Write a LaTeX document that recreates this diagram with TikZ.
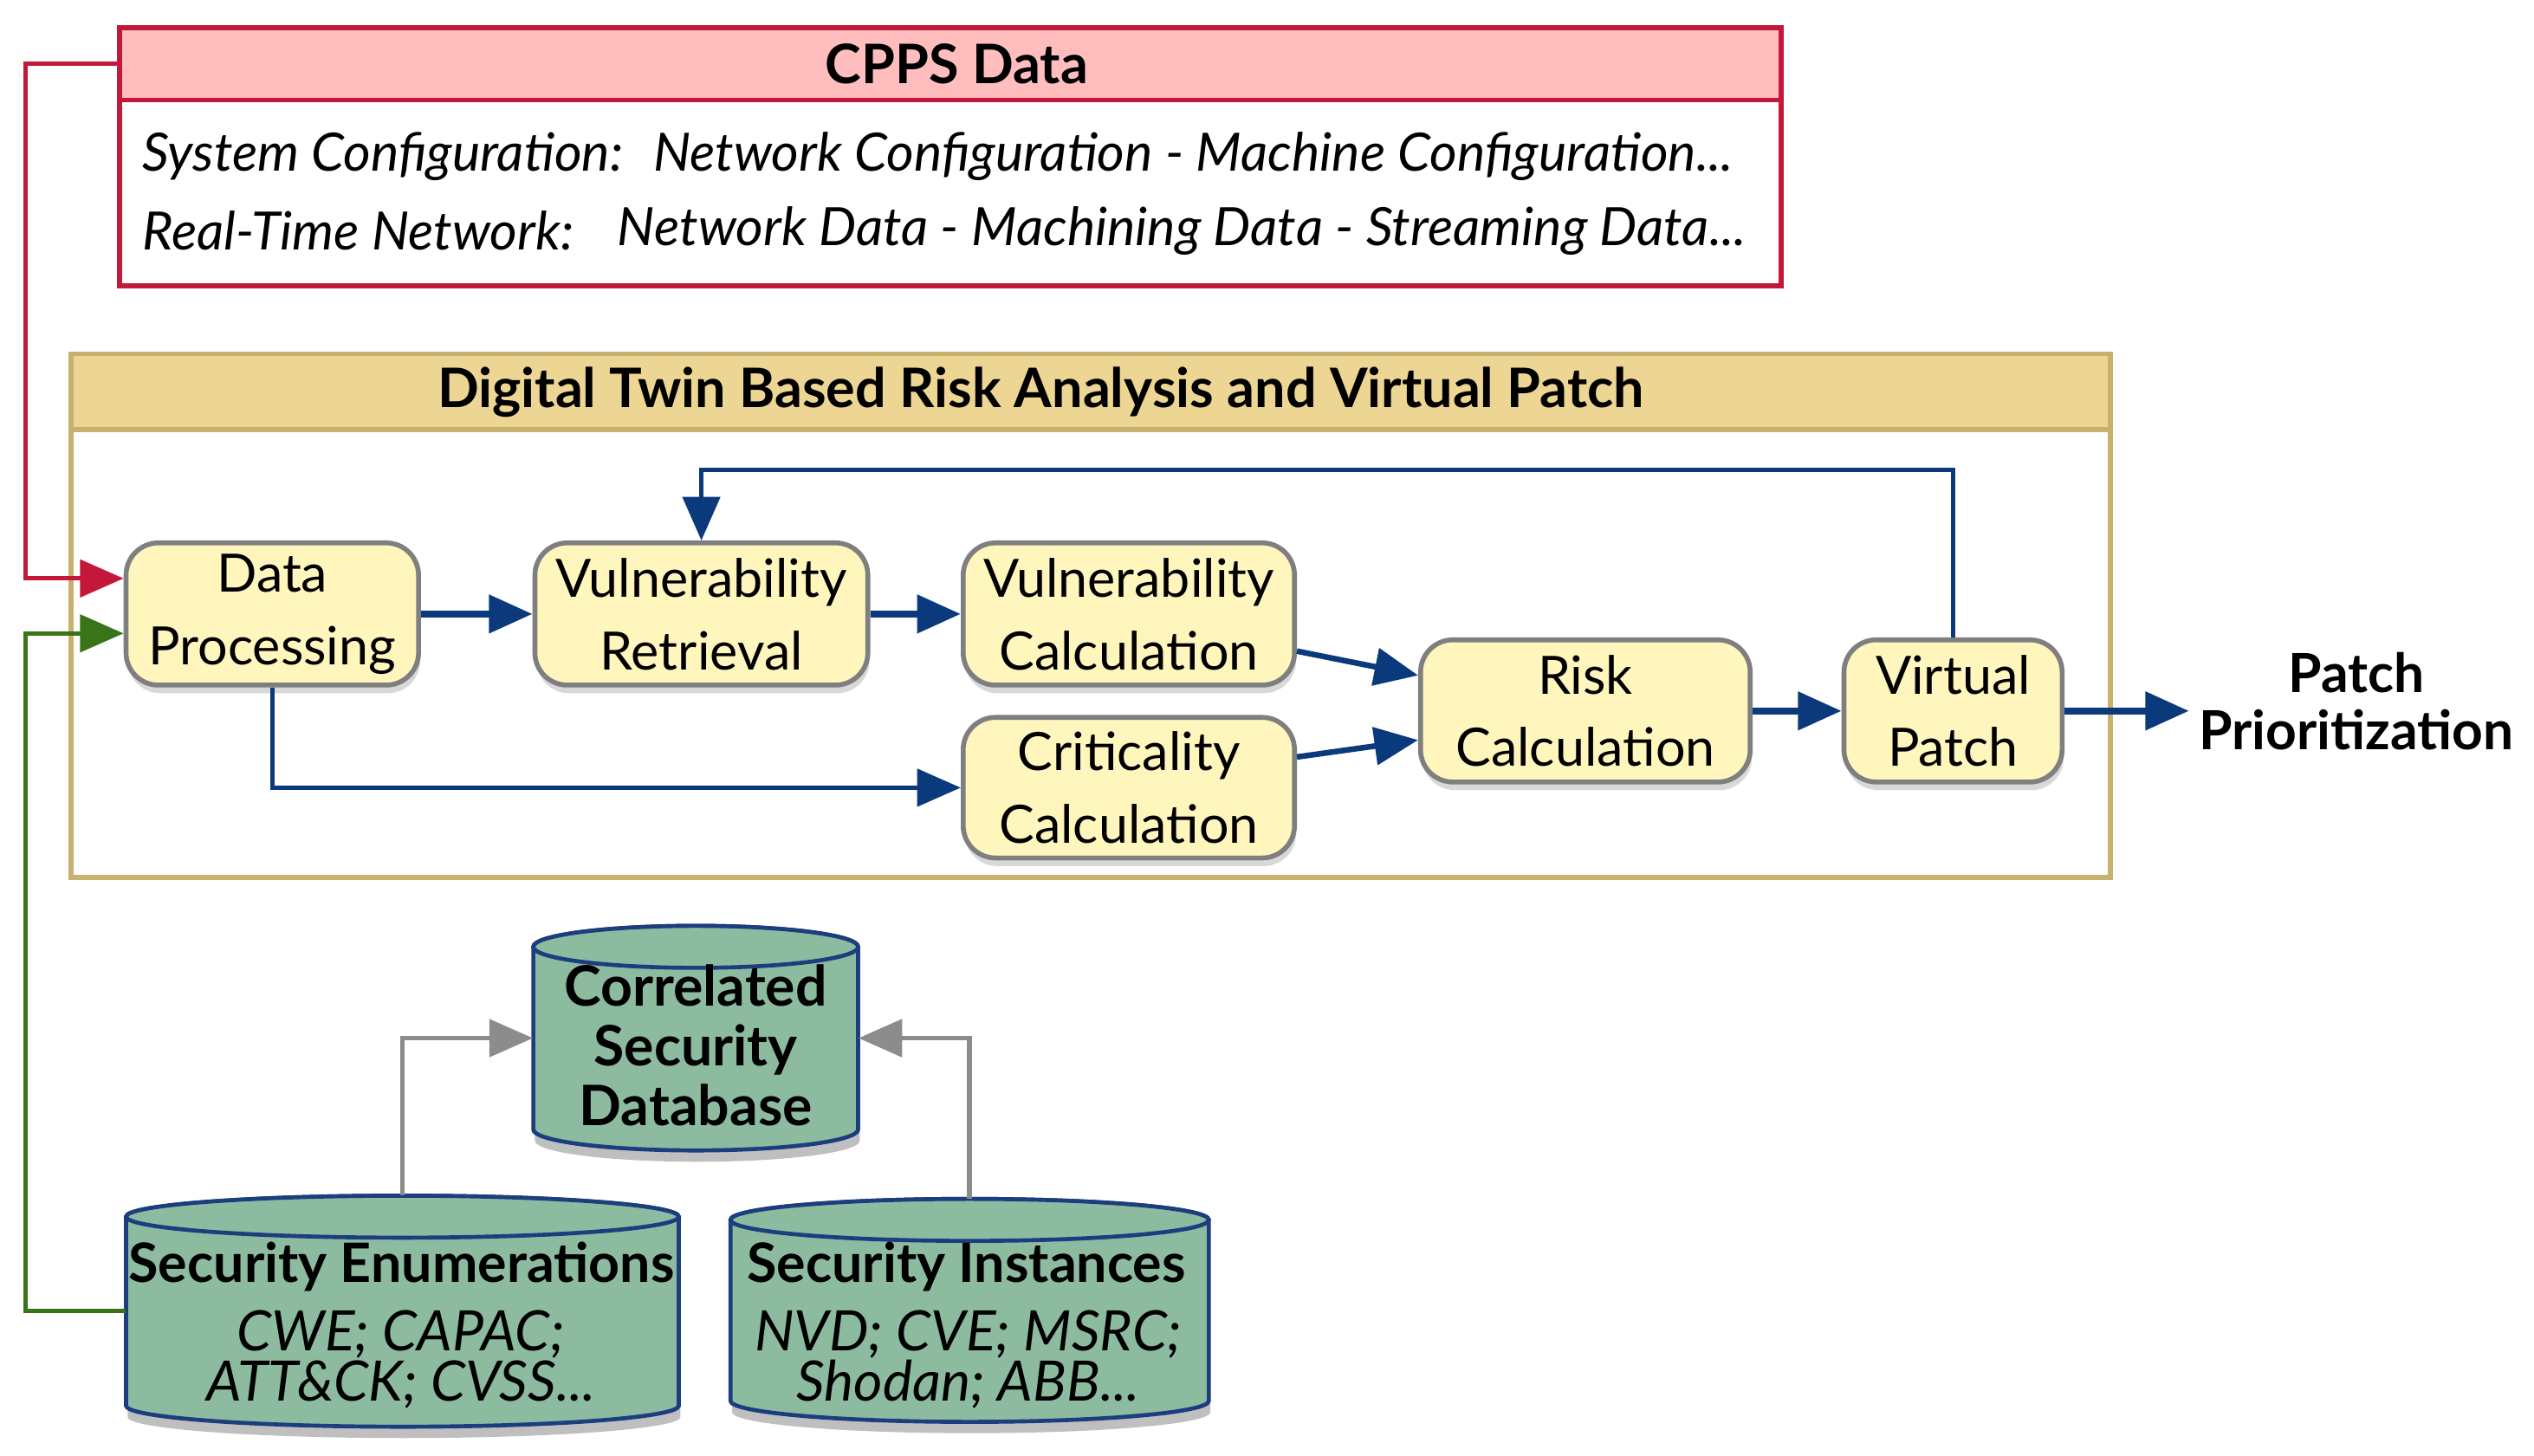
\documentclass[tikz,border=0pt]{standalone}
\usepackage{fontspec}
\setmainfont{Lato}
\usetikzlibrary{arrows.meta,shapes.geometric,shadows,calc}
\definecolor{cppsred}{HTML}{C4183A}
\definecolor{cppsfill}{HTML}{FFBDBD}
\definecolor{dtline}{HTML}{C8B16E}
\definecolor{dtfill}{HTML}{EDD593}
\definecolor{procfill}{HTML}{FFF6BE}
\definecolor{procline}{HTML}{7F7F7F}
\definecolor{navy}{HTML}{0A3A7C}
\definecolor{dbfill}{HTML}{8DBBA0}
\definecolor{dbline}{HTML}{1C3E7E}
\definecolor{grayarr}{HTML}{8C8C8C}
\definecolor{greenl}{HTML}{3A7418}
\tikzset{
  proc/.style={rectangle, rounded corners=20pt, draw=procline, line width=3pt, fill=procfill,
    align=center, font=\fontsize{32.7}{45}\selectfont, inner sep=0pt,
    drop shadow={shadow xshift=1pt, shadow yshift=-5pt, opacity=.3}},
  dbsty/.style={draw=dbline, line width=2.5pt, fill=dbfill},
  dbtitle/.style={font=\fontsize{33.6}{37}\selectfont\bfseries, align=center, inner sep=0pt},
  dbsub/.style={font=\fontsize{34.5}{31}\selectfont\itshape, align=center, inner sep=0pt},
  arrowtip/.style={-{Triangle[length=27pt,width=23pt]}},
  flow/.style={draw=navy, line width=4.5pt, arrowtip},
  diagflow/.style={draw=navy, line width=3.5pt, arrowtip},
  thinflow/.style={draw=navy, line width=2.7pt, arrowtip},
  grayflow/.style={draw=grayarr, line width=3pt, arrowtip},
  redflow/.style={draw=cppsred, line width=2.8pt, arrowtip},
  greenflow/.style={draw=greenl, line width=2.8pt, arrowtip},
  itxt/.style={font=\fontsize{32.7}{36}\selectfont\itshape, anchor=west, inner sep=0pt},
  headtxt/.style={font=\fontsize{33.7}{38}\selectfont\bfseries, inner sep=0pt},
}
% cylinder: name, cx, cy, width, height
\newcommand\dbcyl[5]{%
  \pgfmathsetmacro\dbl{#2-#4/2}\pgfmathsetmacro\dbr{#2+#4/2}%
  \pgfmathsetmacro\dbt{#3-#5/2+13}\pgfmathsetmacro\dbb{#3+#5/2-13}%
  \pgfmathsetmacro\dbrx{#4/2}%
  \fill[black, opacity=.25, xshift=1pt, yshift=-7pt] (\dbl,\dbt) -- (\dbl,\dbb)
    arc[start angle=180,end angle=360,x radius=\dbrx pt,y radius=13pt] -- (\dbr,\dbt)
    arc[start angle=0,end angle=180,x radius=\dbrx pt,y radius=13pt] -- cycle;
  \draw[dbsty] (\dbl,\dbt) -- (\dbl,\dbb)
    arc[start angle=180,end angle=360,x radius=\dbrx pt,y radius=13pt] -- (\dbr,\dbt)
    arc[start angle=0,end angle=180,x radius=\dbrx pt,y radius=13pt] -- cycle;
  \draw[dbsty] (#2,\dbt) ellipse[x radius=\dbrx pt, y radius=13pt];
  \node[inner sep=0pt, minimum width=#4pt, minimum height=#5pt] (#1) at (#2,#3) {};
}
\begin{document}
\begin{tikzpicture}[x=1pt,y=-1pt]
\useasboundingbox (0,0) rectangle (1568,901);
% CPPS box
\node[draw=cppsred, line width=3pt, fill=white, minimum width=1028pt, minimum height=160pt, inner sep=0pt] (cpps) at (588,97) {};
\node[draw=cppsred, line width=3pt, fill=cppsfill, minimum width=1028pt, minimum height=45pt, inner sep=0pt] (cppsh) at (588,39.5) {};
\node[headtxt] (cppst) at (592,39.5) {CPPS Data};
\node[itxt] (sc) at (88,97) {System Configuration:};
\node[itxt] (scv) at (404,97) {Network Configuration - Machine Configuration...};
\node[itxt] (rt) at (88,143) {Real-Time Network:};
\node[itxt] (rtv) at (382,143) {Network Data - Machining Data - Streaming Data...};
% DT box
\node[draw=dtline, line width=3pt, fill=white, minimum width=1262pt, minimum height=324pt, inner sep=0pt] (dt) at (675,381) {};
\node[draw=dtline, line width=3pt, fill=dtfill, minimum width=1262pt, minimum height=47pt, inner sep=0pt] (dth) at (675,242.5) {};
\node[headtxt] (dtt) at (644,242.5) {Digital Twin Based Risk Analysis and Virtual Patch};
% process nodes
\node[proc, minimum width=181pt, minimum height=88pt] (dp) at (168.5,380) {Data\\Processing};
\node[proc, minimum width=206pt, minimum height=88pt] (vr) at (434,380) {Vulnerability\\Retrieval};
\node[proc, minimum width=205pt, minimum height=88pt] (vc) at (698.5,380) {Vulnerability\\Calculation};
\node[proc, minimum width=205pt, minimum height=87pt] (cc) at (698.5,487.5) {Criticality\\Calculation};
\node[proc, minimum width=204pt, minimum height=88pt] (rc) at (981,440) {Risk\\Calculation};
\node[proc, minimum width=135pt, minimum height=88pt] (vp) at (1208.5,440) {Virtual\\Patch};
\node[align=center, font=\fontsize{33.4}{35}\selectfont\bfseries, inner sep=6pt] (pp) at (1458,434) {Patch\\Prioritization};
% databases
\dbcyl{cd}{430.5}{642.5}{201}{139}
\node[dbtitle, font=\fontsize{34.5}{37}\selectfont\bfseries] (cdt) at (430.5,647) {Correlated\\Security\\Database};
\dbcyl{se}{249}{811.5}{342}{143}
\node[dbtitle] (set) at (248.5,784) {Security Enumerations};
\node[dbsub] (sed) at (248,841.5) {CWE; CAPAC;\\ATT\&CK; CVSS...};
\dbcyl{si}{600}{811}{296}{138}
\node[dbtitle] (sit) at (598,784) {Security Instances};
\node[dbsub] (sid) at (599,841.5) {NVD; CVE; MSRC;\\Shodan; ABB...};
% coordinates for side lines
\coordinate (rl) at (16,358);
\coordinate (gl) at (16,392);
\coordinate (fb) at (1208,291);
% connectors
\draw[flow] (dp.east) -- (vr.west);
\draw[flow] (vr.east) -- (vc.west);
\draw[diagflow] ($(vc.east)+(0,23)$) -- ($(rc.west)+(0,-22)$);
\draw[diagflow] ($(cc.east)+(0,-19)$) -- ($(rc.west)+(0,18)$);
\draw[flow] (rc.east) -- (vp.west);
\draw[flow] (vp.east) -- (vp.east -| pp.west);
\draw[thinflow] (vp.north) |- (fb -| vr.north) -- (vr.north);
\draw[thinflow] (dp.south) |- (cc.west);
\draw[redflow] (cppsh.west) -| (rl) -- (rl -| dp.west);
\draw[greenflow] (se.west) -| (gl) -- (gl -| dp.west);
\draw[grayflow] (se.north) |- (cd.west);
\draw[grayflow] (si.north) |- (cd.east);
\end{tikzpicture}
\end{document}
